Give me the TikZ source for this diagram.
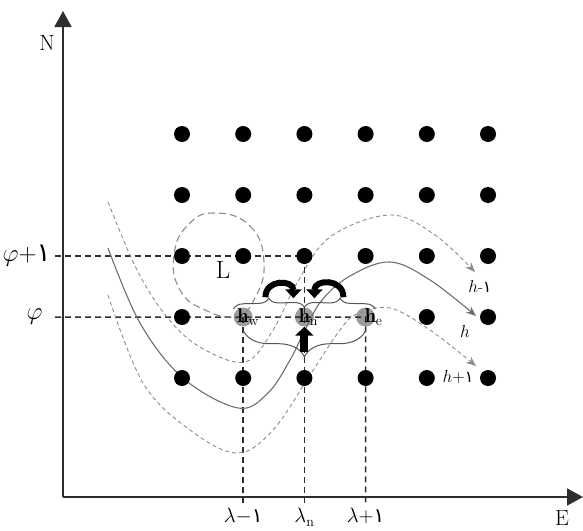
\documentclass[tikz,border=0pt]{standalone}
\usepackage{fontspec}
\usepackage{amsmath}
\usepackage{xcolor}
\usepackage{tikz}
\usetikzlibrary{arrows.meta, positioning, decorations.pathreplacing, calc}
\newfontfamily\arabicdigit{DejaVu Sans}
\newcommand{\arone}{{\arabicdigit ١}}
\definecolor{axisgray}{HTML}{2E2E2E}
\definecolor{nodegray}{HTML}{9C9C9C}
\definecolor{curvegray}{HTML}{6E6E6E}
\definecolor{dashgray}{HTML}{8C8C8C}
\definecolor{bracegray}{HTML}{555555}

\begin{document}
\begin{tikzpicture}[>=Stealth, x=1pt, y=-1pt, font=\fontsize{20}{24}\selectfont,
    dot/.style={circle, fill=black, inner sep=0pt, minimum size=16pt},
    hnode/.style={circle, fill=nodegray, inner sep=0pt, minimum size=19pt},
    axis/.style={axisgray, line width=1.8pt, -{Triangle[length=16pt, width=17pt]}},
    guide/.style={axisgray, line width=1.5pt, dash pattern=on 6pt off 4pt},
    levelsolid/.style={curvegray, line width=1.1pt, -{Stealth[length=10pt, width=8pt]}},
    leveldash/.style={dashgray, line width=0.9pt, dash pattern=on 4pt off 3pt, -{Stealth[length=10pt, width=8pt]}},
    loopdash/.style={dashgray, line width=1.1pt, dash pattern=on 7pt off 4pt},
    brace/.style={decorate, decoration={brace, amplitude=10pt}, bracegray, line width=1pt},
    bendarrow/.style={line width=6pt, -{Triangle[length=9pt, width=16pt]}},
    uparrow/.style={line width=8pt, -{Triangle[length=9pt, width=18pt]}},
    hlabel/.style={font=\fontsize{20}{24}\selectfont},
    curvelabel/.style={font=\fontsize{16}{19}\selectfont}]
    \useasboundingbox (0,0) rectangle (583,530);

    % Grid positions
    \foreach \c in {0,...,5}{
        \foreach \r in {0,...,4}{
            \coordinate (g-\c-\r) at (182+61.2*\c, 134+61*\r);
        }
    }
    \coordinate (O) at (63,497);
    \coordinate (ytop) at (63,11);
    \coordinate (xend) at (583,497);
    \coordinate (yphi1) at (55,256);
    \coordinate (yphi) at (55,317);
    \coordinate (lamm) at (243.2,505);
    \coordinate (lamn) at (304.4,505);
    \coordinate (lamp) at (365.6,505);

    % Neighbour cells
    \node[hnode] (hw) at (g-1-3) {};
    \node[hnode] (hn) at (g-2-3) {};
    \node[hnode] (he) at (g-3-3) {};

    % Axes
    \draw[axis] (O) -- (ytop);
    \draw[axis] (O) -- (xend);
    \node[font=\fontsize{22}{26}\selectfont] (N) at (47,43) {N};
    \node[font=\fontsize{22}{26}\selectfont] (E) at (562,518) {E};

    % Guide lines
    \draw[guide] (yphi1) -- (g-2-2) -- (lamn);
    \draw[guide] (yphi) -- (he.center) -- (lamp);
    \draw[guide] (hw.center) -- (lamm);

    % Level curves
    \draw[leveldash] plot[smooth, tension=0.6] coordinates {(108,202) (137,270) (167,317) (200,347) (245,362) (273,330) (297,283) (330,237) (390,215) (435,235) (475,272)};
    \draw[levelsolid] plot[smooth, tension=0.6] coordinates {(108,248) (140,323) (183,378) (238,408) (268,393) (290,360) (305,330) (322,300) (350,276) (390,262) (430,280) (476,316)};
    \draw[leveldash] plot[smooth, tension=0.6] coordinates {(108,295) (143,383) (190,430) (237,453) (273,430) (310,375) (340,330) (357,314) (390,308) (430,330) (476,366)};

    % Loop L
    \draw[loopdash] plot[smooth cycle, tension=0.8] coordinates {(215,213) (250,226) (264,262) (255,298) (236,316) (205,310) (180,290) (174,255) (188,225)};
    \node[font=\fontsize{25}{28}\selectfont] (L) at (223,270) {L};

    % Grid dots
    \foreach \r in {0,1,2,4}{
        \foreach \c in {0,...,5}{
            \node[dot] (dot-\c-\r) at (g-\c-\r) {};
        }
    }
    \foreach \c in {0,4,5}{
        \node[dot] (dot-\c-3) at (g-\c-3) {};
    }

    % Braces
    \coordinate (bw) at ([yshift=8pt]hw.west);
    \coordinate (be) at ([yshift=8pt]he.east);
    \draw[brace] (bw) -- (hn.north);
    \draw[brace] (hn.north) -- (be);
    \draw[brace, decoration={mirror, amplitude=26pt}] ([yshift=-4pt]hw.south) -- ([yshift=-4pt]he.south);

    % Moves into the centre cell
    \coordinate (tipw) at ($(bw)!0.45!(hn.north)+(0,-11)$);
    \coordinate (tipe) at ($(hn.north)!0.55!(be)+(0,-11)$);
    \coordinate (inw) at ($(hn.north)+(-11,-9)$);
    \coordinate (ine) at ($(hn.north)+(10,-9)$);
    \coordinate (tipb) at ($(hn.south)+(0,25)$);
    \draw[bendarrow] (tipw) to[out=90, in=90, looseness=1.7] (inw);
    \draw[bendarrow] (tipe) to[out=90, in=90, looseness=1.7] (ine);
    \draw[uparrow] (tipb) -- (hn.south);

    % Cell labels
    \node[hlabel] (hw-lbl) at ([xshift=5pt]hw) {$\mathbf{h}_{\mathrm{w}}$};
    \node[hlabel] (hn-lbl) at ([xshift=4pt]hn) {$\mathbf{h}_{\mathrm{n}}$};
    \node[hlabel] (he-lbl) at ([xshift=8pt]he) {$\mathbf{h}_{\mathrm{e}}$};

    % Axis labels
    \node[left=1pt of yphi1, font=\fontsize{26}{30}\selectfont] (phi1-lbl) {$\varphi+$\arone};
    \node[left=9pt of yphi, font=\fontsize{26}{30}\selectfont] (phi-lbl) {$\varphi$};
    \node[below=0pt of lamm] (lamm-lbl) {$\lambda-$\arone};
    \node[below=0pt of lamn] (lamn-lbl) {$\lambda_{\mathrm{n}}$};
    \node[below=0pt of lamp] (lamp-lbl) {$\lambda+$\arone};

    % Curve labels
    \node[curvelabel] (hm-lbl) at (480,286) {$h$-\arone};
    \node[curvelabel] (h-lbl) at (465,331) {$h$};
    \node[curvelabel] (hp-lbl) at (458,377) {$h+$\arone};
\end{tikzpicture}
\end{document}
